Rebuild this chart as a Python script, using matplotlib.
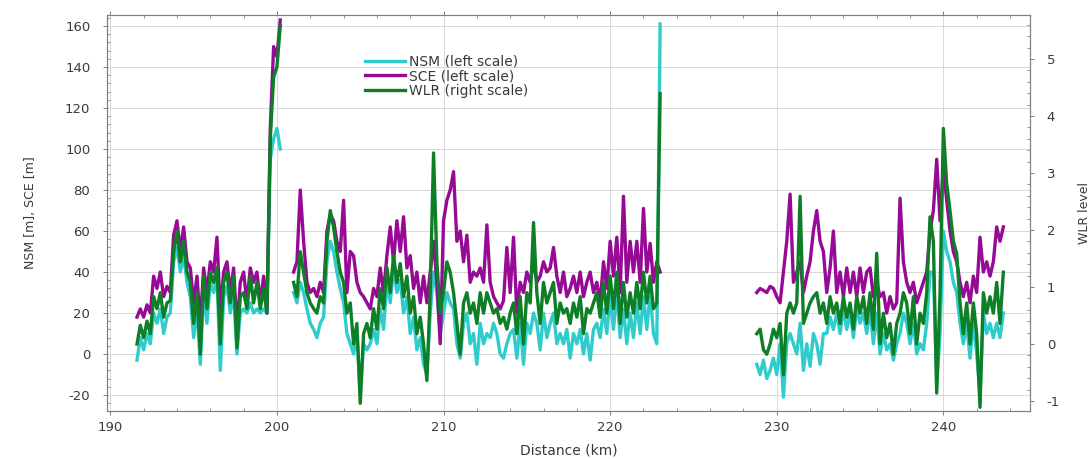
import numpy as np
import matplotlib
matplotlib.use("Agg")
import matplotlib.pyplot as plt
from matplotlib.ticker import MultipleLocator, AutoMinorLocator

plt.rcParams['font.family'] = ['DejaVu Sans']
plt.rcParams['axes.unicode_minus'] = False

# Along-track sampling (km) of the three survey stretches
sample_step_km = 0.2
segment_start_km = [191.6, 201.0, 228.8]

# NSM [m] (left scale), one list per stretch
nsm_seg1 = [-3, 8, 2, 10, 5, 20, 15, 22, 10, 18, 20, 45, 52, 40, 48, 35, 28, 8, 22, -5,
            30, 15, 35, 30, 38, -8, 28, 33, 20, 30, 0, 20, 22, 20, 25, 20, 22, 20, 22, 20,
            95, 105, 110, 100]
nsm_seg2 = [30, 25, 35, 30, 22, 15, 12, 8, 15, 18,
            45, 55, 50, 40, 32, 25, 10, 5, 0, 10,
            -20, 5, 2, 5, 12, 5, 22, 12, 35, 25,
            42, 30, 36, 20, 28, 10, 18, 2, 8, -5,
            -10, 20, 40, 30, 10, 20, 30, 25, 22, 5,
            -2, 15, 20, 5, 10, -5, 15, 5, 10, 8,
            15, 10, 0, -2, 5, 10, 12, -2, 15, -5,
            15, 10, 20, 15, 2, 20, 8, 15, 20, 5,
            10, 5, 12, -2, 10, 5, 12, 0, 10, -3,
            12, 15, 8, 22, 10, 28, 12, 30, 8, 22,
            5, 20, 8, 25, 10, 28, 12, 30, 10, 5,
            161]
nsm_seg3 = [-5, -10, -3, -12, -8, -2, -10, 5, -21, 5,
            10, 5, 0, 15, -8, 5, -6, 10, 5, -5,
            10, 10, 18, 12, 20, 10, 22, 12, 20, 8,
            22, 15, 20, 10, 22, 5, 20, 0, 10, 2,
            5, -3, 5, 10, 20, 15, 5, 15, 0, 5,
            2, 15, 40, 40, -15, 10, 60, 50, 45, 35,
            30, 15, 5, 15, -2, 15, 0, -20, 20, 10,
            15, 8, 15, 8, 20]

# SCE [m] (left scale)
sce_seg1 = [18, 22, 18, 24, 20, 38, 32, 40, 28, 33, 30, 58, 65, 50, 62, 45, 42, 25, 38, 15,
            42, 30, 45, 40, 57, 20, 40, 45, 30, 42, 12, 35, 40, 25, 42, 35, 40, 25, 38, 20,
            110, 150, 145, 163]
sce_seg2 = [40, 45, 80, 55, 35, 30, 32, 28, 35, 30,
            60, 68, 65, 55, 50, 75, 30, 50, 48, 35,
            30, 28, 25, 22, 32, 28, 42, 30, 48, 62,
            45, 65, 50, 67, 42, 48, 32, 40, 25, 38,
            25, 40, 55, 35, 5, 65, 75, 80, 89, 55,
            60, 45, 58, 35, 40, 38, 42, 35, 63, 35,
            28, 25, 22, 26, 52, 30, 57, 20, 35, 30,
            40, 35, 45, 35, 38, 45, 40, 42, 52, 38,
            30, 40, 28, 32, 38, 30, 40, 28, 35, 40,
            30, 35, 25, 45, 32, 55, 38, 57, 30, 77,
            35, 55, 40, 55, 35, 71, 40, 54, 35, 45,
            40]
sce_seg3 = [30, 32, 31, 30, 33, 32, 28, 25, 40, 55,
            78, 35, 40, 45, 30, 38, 45, 60, 70, 55,
            50, 30, 42, 60, 30, 40, 28, 42, 30, 40,
            28, 42, 30, 40, 42, 28, 35, 28, 30, 20,
            28, 22, 25, 76, 45, 35, 30, 35, 25, 30,
            35, 40, 60, 70, 95, 65, 90, 75, 60, 50,
            45, 35, 28, 35, 25, 38, 30, 57, 40, 45,
            38, 45, 62, 55, 62]

# WLR (right scale)
wlr_seg1 = [0.00, 0.33, 0.11, 0.40, 0.18, 0.83, 0.62, 0.90, 0.47, 0.72, 0.76, 1.62, 1.98,
            1.44, 1.80, 1.26, 1.08, 0.36, 0.90, -0.18, 1.19, 0.62, 1.26, 1.08, 1.34, 0.00,
            1.08, 1.26, 0.72, 1.19, -0.07, 0.83, 0.90, 0.62, 1.19, 0.72, 1.08, 0.62, 0.97,
            0.54, 3.60, 4.68, 4.86, 5.58]
wlr_seg2 = [1.08, 0.83, 1.62, 1.26, 0.90, 0.72, 0.62, 0.54, 0.83, 0.72,
            1.80, 2.34, 2.05, 1.62, 1.26, 1.08, 0.54, 0.72, 0.00, 0.36,
            -1.04, 0.18, 0.36, 0.11, 0.62, 0.26, 0.97, 0.62, 1.34, 0.90,
            1.55, 1.08, 1.41, 0.83, 1.19, 0.54, 0.83, 0.18, 0.47, 0.00,
            -0.64, 0.90, 3.35, 1.44, 0.54, 0.90, 1.44, 1.26, 0.90, 0.36,
            -0.18, 0.72, 0.90, 0.54, 0.72, 0.36, 0.90, 0.54, 0.90, 0.72,
            0.54, 0.62, 0.36, 0.47, 0.26, 0.54, 0.72, 0.18, 0.83, 0.00,
            0.90, 0.72, 2.13, 0.90, 0.36, 1.08, 0.72, 0.90, 1.08, 0.36,
            0.72, 0.54, 0.62, 0.36, 0.72, 0.47, 0.83, 0.18, 0.62, 0.54,
            0.72, 0.90, 0.47, 1.08, 0.54, 1.19, 0.62, 1.26, 0.36, 1.08,
            0.47, 0.90, 0.54, 1.08, 0.62, 1.26, 0.72, 1.19, 0.62, 0.72,
            4.39]
wlr_seg3 = [0.18, 0.26, -0.10, -0.18, 0.00, 0.26, 0.11, 0.36, -0.54, 0.54,
            0.72, 0.54, 0.72, 2.59, 0.36, 0.54, 0.72, 0.83, 0.90, 0.54,
            0.72, 0.36, 0.83, 0.54, 0.72, 0.36, 0.83, 0.47, 0.72, 0.26,
            0.83, 0.54, 0.83, 0.36, 0.90, 0.26, 1.59, 0.00, 0.54, 0.11,
            0.36, -0.18, 0.36, 0.54, 0.90, 0.72, 0.18, 0.83, 0.00, 0.54,
            0.36, 0.90, 2.23, 1.80, -0.86, 0.90, 3.78, 2.81, 2.34, 1.80,
            1.59, 0.72, 0.18, 0.72, 0.00, 0.72, 0.18, -1.11, 0.90, 0.54,
            0.83, 0.54, 1.08, 0.36, 1.26]

series_labels = ["NSM (left scale)", "SCE (left scale)", "WLR (right scale)"]
series_colors = ["#30cccc", "#960a96", "#0e7f26"]


def join_segments(segments):
    """Concatenate stretches, inserting a NaN break between them."""
    xs, ys = [], []
    for start, vals in zip(segment_start_km, segments):
        x = np.round(start + sample_step_km * np.arange(len(vals)), 2)
        xs.append(x)
        ys.append(np.asarray(vals, dtype=float))
        xs.append([np.nan])
        ys.append([np.nan])
    return np.concatenate(xs[:-1]), np.concatenate(ys[:-1])


x_nsm, y_nsm = join_segments([nsm_seg1, nsm_seg2, nsm_seg3])
x_sce, y_sce = join_segments([sce_seg1, sce_seg2, sce_seg3])
x_wlr, y_wlr = join_segments([wlr_seg1, wlr_seg2, wlr_seg3])

W, H, DPI = 1092, 459, 100
fig = plt.figure(figsize=(W / DPI, H / DPI), dpi=DPI)
ax = fig.add_axes([107 / W, 1 - 411 / H, 923 / W, 396 / H])
ax2 = ax.twinx()

lw = 2.4
l1, = ax.plot(x_nsm, y_nsm, color=series_colors[0], lw=lw, label=series_labels[0])
l2, = ax.plot(x_sce, y_sce, color=series_colors[1], lw=lw, label=series_labels[1])
l3, = ax2.plot(x_wlr, y_wlr, color=series_colors[2], lw=lw, label=series_labels[2])

ax.set_xlim(189.8, 245.2)
ax.set_ylim(-27.8, 165.4)
ax2.set_ylim(-1.175, 5.77)

tick_color = "#3a3a3a"
spine_color = "#808080"
fs = 9.5

ax.xaxis.set_major_locator(MultipleLocator(10))
ax.xaxis.set_minor_locator(MultipleLocator(2))
ax.yaxis.set_major_locator(MultipleLocator(20))
ax.yaxis.set_minor_locator(AutoMinorLocator(5))
ax2.yaxis.set_major_locator(MultipleLocator(1))
ax2.yaxis.set_minor_locator(AutoMinorLocator(5))

ax.tick_params(axis='both', which='major', direction='out', length=3, width=0.7,
               color=spine_color, labelcolor=tick_color, labelsize=fs, top=True)
ax.tick_params(axis='both', which='minor', direction='in', length=2, width=0.6,
               color=spine_color, top=True)
ax.tick_params(axis='y', pad=9)
ax.tick_params(axis='x', pad=4)
ax2.tick_params(axis='y', which='major', direction='out', length=3, width=0.7,
                color=spine_color, labelcolor=tick_color, labelsize=fs, pad=9)
ax2.tick_params(axis='y', which='minor', direction='in', length=2, width=0.6,
                color=spine_color)

ax.grid(True, which='major', color='#d8d8d8', lw=0.7)
ax.set_axisbelow(True)
for a in (ax, ax2):
    for s in a.spines.values():
        s.set_color(spine_color)
        s.set_linewidth(0.8)

ax.set_xlabel("Distance (km)", fontsize=fs + 0.5, color=tick_color, labelpad=7)
ax.set_ylabel("NSM [m], SCE [m]", fontsize=9, color=tick_color, labelpad=20)
ax2.set_ylabel("WLR level", fontsize=9, color=tick_color, rotation=90, labelpad=13)

leg = ax2.legend(handles=[l1, l2, l3], loc='upper left', bbox_to_anchor=(0.2795, 0.9),
                 frameon=False, fontsize=10, handlelength=2.9, handletextpad=0.3,
                 labelspacing=0.05, borderpad=0, borderaxespad=0)
for t in leg.get_texts():
    t.set_color(tick_color)

fig.savefig("out.png", dpi=DPI)
